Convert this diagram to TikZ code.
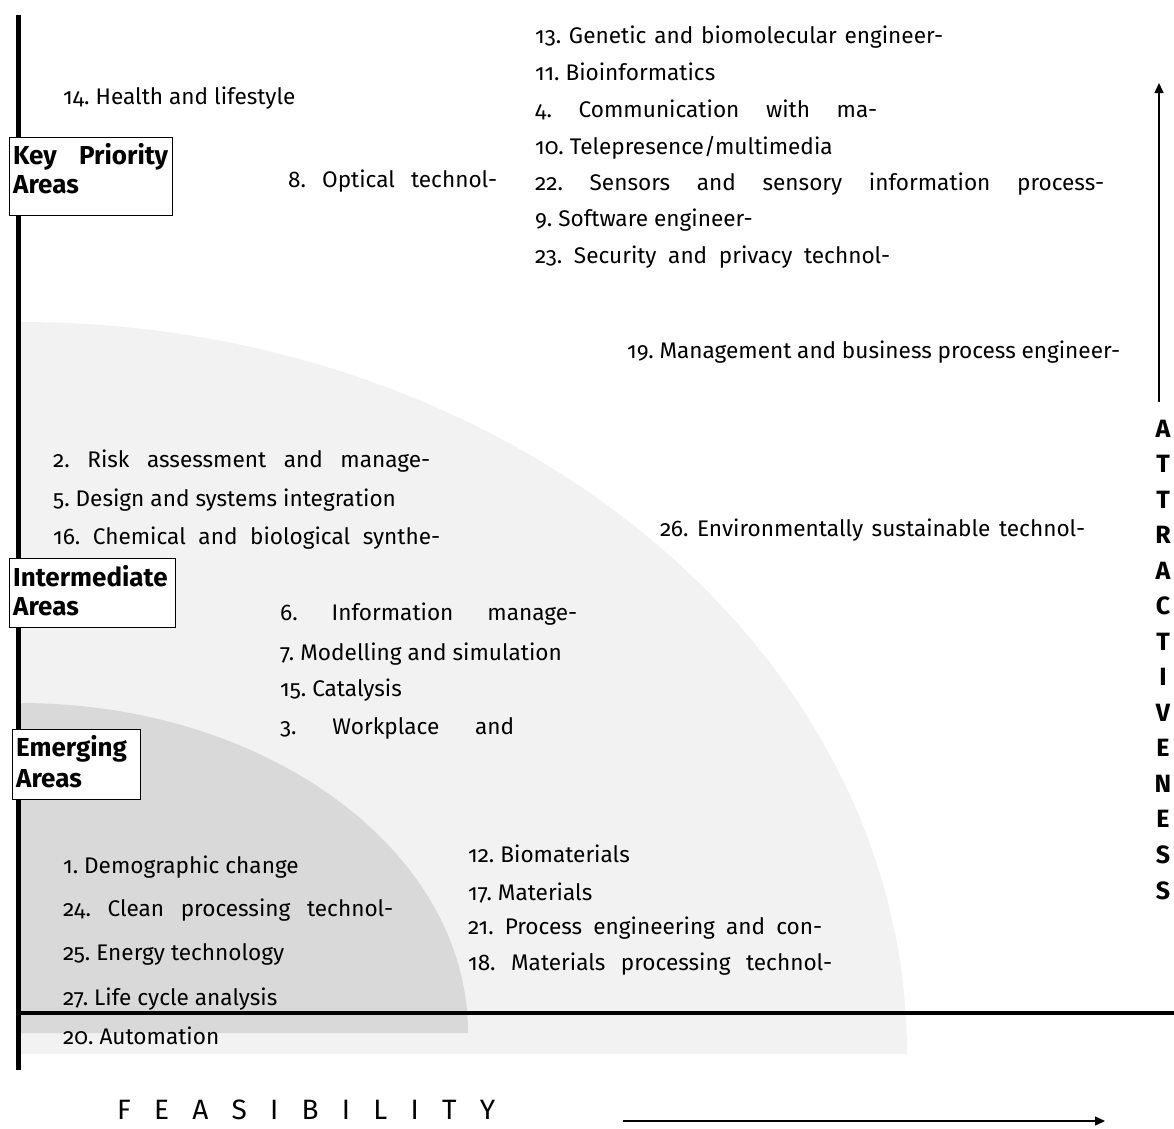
\documentclass[tikz,border=0pt]{standalone}
\usepackage{fontspec}
\setmainfont{Fira Sans}[Numbers=OldStyle]
\usetikzlibrary{arrows.meta}
\definecolor{lightgrey}{HTML}{F2F2F2}
\definecolor{darkgrey}{HTML}{D9D9D9}
\newcommand\jst[2]{\makebox[#1pt][s]{#2}}
\frenchspacing
\begin{document}
\begin{tikzpicture}[x=1pt,y=-1pt,
  item/.style={anchor=base west, inner sep=0pt, font=\fontsize{22.6}{26}\selectfont},
  areabox/.style={draw=black, line width=1.3pt, fill=white, anchor=north west, inner sep=0pt},
  areatext/.style={anchor=base west, inner sep=0pt, font=\bfseries\fontsize{26}{30}\selectfont},
  axisline/.style={line width=4.8pt},
  axarrow/.style={line width=1.4pt, -{Triangle[length=10pt,width=9pt]}},
  bigletter/.style={anchor=base, inner sep=0pt, font=\bfseries\fontsize{25}{30}\selectfont}]
\useasboundingbox (0,0) rectangle (1174,1128);
% shaded regions
\fill[lightgrey] (20,1054) -- (907,1054) arc[start angle=0, end angle=90, x radius=887pt, y radius=732pt] -- cycle;
\fill[darkgrey] (20,1033) -- (468,1033) arc[start angle=0, end angle=90, x radius=448pt, y radius=330pt] -- cycle;
% axes
\draw[axisline] (18.5,15) -- (18.5,1070);
\draw[axisline] (18,1013) -- (1174,1013);
% area boxes
\node[areabox, minimum width=163pt, minimum height=78pt] (keybox) at (9,137) {};
\node[areabox, minimum width=166pt, minimum height=69pt] (interbox) at (9,558) {};
\node[areabox, minimum width=128pt, minimum height=70pt] (emergbox) at (12,729) {};
\node[areatext] (keyA) at (13,164) {\jst{155}{Key Priority}};
\node[areatext] (keyB) at (13,193) {Areas};
\node[areatext] (interA) at (13,586) {Intermediate};
\node[areatext] (interB) at (13,615) {Areas};
\node[areatext] (emergA) at (16,756) {Emerging};
\node[areatext] (emergB) at (16,787) {Areas};
% key priority items
\node[item] (t14) at (63,104) {14. Health and lifestyle};
\node[item] (t8) at (288,187) {\jst{209}{8. Optical technol-}};
\node[item] (t13) at (535,43) {\jst{408}{13. Genetic and biomolecular engineer-}};
\node[item] (t11) at (535,80) {11. Bioinformatics};
\node[item] (t4) at (535,117) {\jst{342}{4. Communication with ma-}};
\node[item] (t10) at (535,154) {10. Telepresence/multimedia};
\node[item] (t22) at (535,190) {\jst{569}{22. Sensors and sensory information process-}};
\node[item] (t9) at (535,226) {9. Software engineer-};
\node[item] (t23) at (535,263) {\jst{355}{23. Security and privacy technol-}};
% intermediate items
\node[item] (t19) at (627,358) {\jst{493}{19. Management and business process engineer-}};
\node[item] (t2) at (53,467) {\jst{377}{2. Risk assessment and manage-}};
\node[item] (t5) at (53,506) {5. Design and systems integration};
\node[item] (t16) at (53,544) {\jst{387}{16. Chemical and biological synthe-}};
\node[item] (t26) at (660,536) {\jst{425}{26. Environmentally sustainable technol-}};
\node[item] (t6) at (280,620) {\jst{297}{6. Information manage-}};
\node[item] (t7) at (280,660) {7. Modelling and simulation};
\node[item] (t15) at (280,696) {15. Catalysis};
\node[item] (t3) at (280,734) {\jst{234}{3. Workplace and}};
\node[item] (t12) at (468,862) {12. Biomaterials};
\node[item] (t17) at (468,900) {17. Materials};
\node[item] (t21) at (468,934) {\jst{354}{21. Process engineering and con-}};
\node[item] (t18) at (468,970) {\jst{364}{18. Materials processing technol-}};
% emerging items
\node[item] (t1) at (63,873) {1. Demographic change};
\node[item] (t24) at (63,916) {\jst{330}{24. Clean processing technol-}};
\node[item] (t25) at (63,960) {25. Energy technology};
\node[item] (t27) at (63,1005) {27. Life cycle analysis};
\node[item] (t20) at (63,1044) {20. Automation};
% attractiveness axis
\coordinate (attbot) at (1159,402);
\coordinate (atttop) at (1159,83);
\draw[axarrow] (attbot) -- (atttop);
\foreach \L [count=\i from 0] in {A,T,T,R,A,C,T,I,V,E,N,E,S,S} {
  \node[bigletter] (att\i) at (1163,{437+35.54*\i}) {\L};
}
% feasibility axis
\node[anchor=base west, inner sep=0pt, font=\fontsize{28}{30}\selectfont] (feas) at (117,1119) {\jst{378}{F E A S I B I L I T Y}};
\coordinate (feasL) at (623,1121);
\coordinate (feasR) at (1105,1121);
\draw[axarrow] (feasL) -- (feasR);
\end{tikzpicture}
\end{document}
